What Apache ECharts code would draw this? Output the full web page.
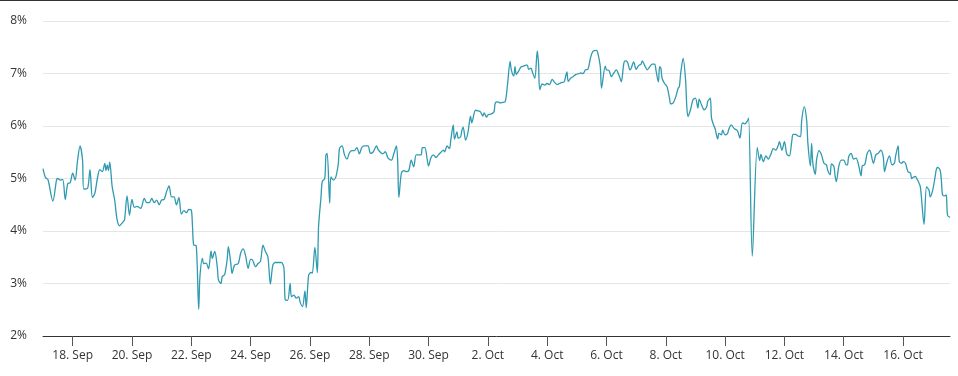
<!DOCTYPE html>
<html>
<head>
<meta charset="utf-8">
<script src="https://cdn.jsdelivr.net/npm/echarts@6/dist/echarts.min.js"></script>
<style>
html,body{margin:0;padding:0;background:#fff;}
#chart{width:958px;height:376px;}
</style>
</head>
<body>
<div id="chart"></div>
<script>
// Start of the series: 17 Sep 00:00; x values are hours since then.
const startDate = '2023-09-17T00:00:00Z';
const hours = [0,2,4,8,11,12,14,16,18,20,22,24,26,28,30,32,33,36,38,40,42,44,46,48,50,51,52,53,54,56,58,60,62,64,65,66,68,70,72,74,76,79,82,84,86,88,90,92,94,96,98,100,102,104,106,108,110,112,114,116,118,120,121,122,124,126,127,129,130,132,134,136,137,139,141,142,144,145,147,149,150,152,153,155,158,160,162,164,166,168,169,172,174,176,178,180,182,184,186,188,191,193,195,196,198,200,201,203,205,207,208,210,212,213,215,217,218,220,222,223,225,226,228,229,230,232,233,235,237,239,240,242,244,246,248,250,252,254,256,258,260,263,265,267,270,271,273,275,277,279,280,282,284,286,287,288,290,292,294,296,298,300,302,304,306,307,309,311,312,314,316,318,320,322,324,325,327,329,330,332,333,335,336,338,339,340,342,344,346,347,350,352,354,356,357,359,360,363,365,366,368,370,372,374,376,378,379,381,382,383,385,387,389,391,392,393,395,396,398,400,401,402,404,406,408,410,412,414,416,418,420,421,422,424,425,427,429,431,434,435,437,439,441,443,445,448,449,451,452,455,456,458,460,462,464,466,467,468,470,471,473,475,476,478,480,482,484,485,487,489,491,493,495,496,498,499,500,501,503,505,507,508,510,512,514,515,516,518,520,521,522,524,526,528,530,531,533,535,537,538,540,541,543,544,546,547,549,550,552,554,555,557,559,560,562,564,566,568,570,571,574,578,580,581,583,585,587,589,591,593,595,596,598,600,602,604,606,607,609,611,613,614,616,618,619,621,622,623,625,626,628,630,632,634,635,637,638,640,641,642,644,646,648,650,651,652,654,656,658,660,662,663,665,667,669,670,672,674,676,678,680,681,683,685,687,689,690,692,693,695,696,698,699,700,702,703,704,706,707,708,710,713,715,717,718,720,722,723,724,726,727,728,730,731,732,734];
const values = [5.19,5.02,4.98,4.57,4.98,5.00,4.97,4.98,4.60,4.90,4.92,5.10,4.97,5.35,5.62,5.35,4.80,4.81,5.17,4.64,4.72,5.00,5.17,5.13,5.29,5.15,5.26,5.15,5.31,4.84,4.59,4.21,4.10,4.15,4.18,4.21,4.67,4.30,4.60,4.45,4.47,4.43,4.62,4.54,4.54,4.62,4.54,4.59,4.50,4.59,4.60,4.75,4.86,4.65,4.65,4.50,4.64,4.32,4.39,4.35,4.41,4.40,4.08,3.73,3.72,2.51,3.13,3.48,3.38,3.39,3.28,3.62,3.48,3.61,3.32,3.07,3.00,3.13,3.17,3.45,3.70,3.38,3.19,3.35,3.38,3.58,3.66,3.52,3.29,3.46,3.46,3.32,3.38,3.42,3.73,3.61,3.51,2.99,3.35,3.40,3.40,3.40,3.29,2.69,2.68,3.00,2.75,2.78,2.72,2.75,2.65,2.56,2.86,2.54,3.16,3.21,3.20,3.69,3.21,4.08,4.65,4.94,5.00,5.45,5.48,4.53,5.03,4.97,5.03,5.29,5.58,5.62,5.45,5.37,5.49,5.53,5.53,5.59,5.47,5.59,5.62,5.62,5.48,5.50,5.62,5.56,5.50,5.47,5.51,5.40,5.37,5.35,5.48,5.62,5.35,4.64,5.10,5.15,5.13,5.15,5.35,5.22,5.45,5.45,5.45,5.59,5.59,5.35,5.24,5.40,5.45,5.40,5.45,5.50,5.54,5.51,5.62,5.57,5.73,6.02,5.75,5.89,5.77,5.80,5.92,5.98,5.73,5.89,6.19,6.06,6.30,6.29,6.27,6.19,6.25,6.17,6.21,6.23,6.27,6.44,6.46,6.44,6.45,6.46,6.81,7.23,7.07,6.95,7.13,6.98,7.05,7.13,7.14,7.16,7.16,7.08,7.10,7.03,6.91,7.43,7.20,6.69,6.80,6.78,6.81,6.79,6.89,6.83,6.79,6.81,6.83,6.83,6.85,7.03,6.85,6.91,6.94,6.98,7.00,7.01,7.00,7.07,7.08,7.29,7.42,7.44,7.39,7.13,6.72,7.14,7.07,7.06,6.94,7.01,7.07,6.97,6.91,6.84,7.19,7.24,7.22,7.07,7.10,7.22,7.08,7.15,7.18,7.24,7.15,7.07,7.13,7.18,7.18,7.07,6.84,7.13,7.10,6.91,6.81,6.75,6.53,6.42,6.44,6.55,6.72,6.75,6.99,7.29,6.88,6.37,6.18,6.31,6.50,6.53,6.34,6.51,6.40,6.31,6.36,6.47,6.53,6.15,6.00,5.94,5.75,5.86,5.83,5.92,5.83,5.86,5.94,6.02,5.96,5.94,5.91,5.77,6.06,6.04,6.09,6.15,3.52,5.59,5.34,5.46,5.32,5.43,5.37,5.46,5.57,5.54,5.63,5.70,5.54,5.70,5.46,5.43,5.72,5.84,5.84,5.81,5.80,6.11,6.37,6.11,5.67,5.24,5.67,5.29,5.08,5.35,5.53,5.45,5.29,5.26,5.16,5.07,5.28,5.23,5.05,4.94,5.23,5.35,5.35,5.26,5.26,5.41,5.48,5.37,5.39,5.26,5.05,5.24,5.26,5.48,5.54,5.48,5.29,5.45,5.48,5.54,5.41,5.13,5.32,5.43,5.26,5.29,5.43,5.62,5.32,5.29,5.32,5.29,5.20,5.13,5.10,5.00,5.02,5.04,5.00,4.96,4.84,4.13,4.84,4.78,4.65,4.78,5.04,5.18,5.21,5.16,4.97,4.69,4.67,4.69,4.30,4.26];
const tickDates = ['2023-09-18','2023-09-20','2023-09-22','2023-09-24','2023-09-26','2023-09-28','2023-09-30','2023-10-02','2023-10-04','2023-10-06','2023-10-08','2023-10-10','2023-10-12','2023-10-14','2023-10-16'];
const yTicks = [2,3,4,5,6,7,8];
const monthNames = ['Jan','Feb','Mar','Apr','May','Jun','Jul','Aug','Sep','Oct','Nov','Dec'];

const t0 = Date.parse(startDate);
const H = 3600000;
const tickHours = tickDates.map(d => (Date.parse(d + 'T00:00:00Z') - t0) / H);
const seriesData = hours.map((h, i) => [h, values[i]]);

const chart = echarts.init(document.getElementById('chart'), null, {renderer: 'canvas'});
const font = "'Open Sans', 'Noto Sans', sans-serif";
chart.setOption({
  animation: false,
  backgroundColor: '#ffffff',
  grid: {left: 43, right: 8, top: 21, bottom: 40, containLabel: false, outerBoundsMode: 'none'},
  xAxis: {
    type: 'value',
    min: hours[0],
    max: hours[hours.length - 1],
    axisLine: {show: true, lineStyle: {color: '#333333', width: 1}},
    axisTick: {show: true, length: 10, lineStyle: {color: '#555555'}, customValues: tickHours},
    axisLabel: {
      customValues: tickHours,
      margin: 14,
      color: '#333333',
      fontSize: 12,
      fontFamily: font,
      formatter: function (v) {
        const d = new Date(t0 + v * H);
        return d.getUTCDate() + '. ' + monthNames[d.getUTCMonth()];
      }
    },
    splitLine: {show: false}
  },
  yAxis: {
    type: 'value',
    min: yTicks[0],
    max: yTicks[yTicks.length - 1],
    interval: 1,
    axisLine: {show: false},
    axisTick: {show: false},
    axisLabel: {formatter: '{value}%', color: '#333333', fontSize: 12, fontFamily: font, margin: 16},
    splitLine: {lineStyle: {color: '#e6e6e6', width: 1}}
  },
  graphic: [{
    type: 'rect', shape: {x: 0, y: 0, width: 958, height: 1}, style: {fill: '#333333'}, silent: true
  }],
  series: [{
    type: 'line',
    data: seriesData,
    smooth: 0.3,
    symbol: 'none',
    lineStyle: {color: '#2f9ab0', width: 1.3},
    itemStyle: {color: '#2f9ab0'}
  }]
});
</script>
</body>
</html>
